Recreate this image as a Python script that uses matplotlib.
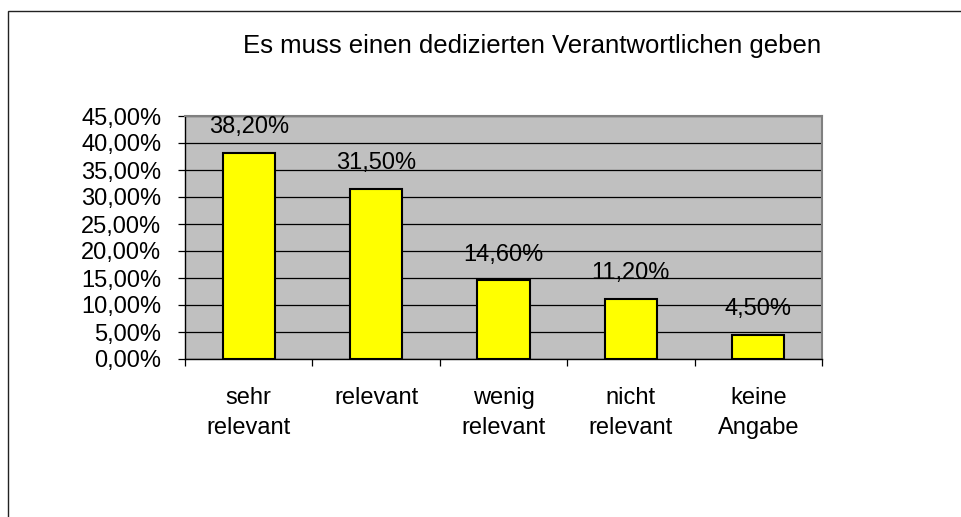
import matplotlib
matplotlib.use('Agg')
import matplotlib.pyplot as plt
from matplotlib.patches import Rectangle
from matplotlib.ticker import FixedLocator

plt.rcParams['font.family'] = ['Liberation Sans', 'DejaVu Sans']

# ---------------------------------------------------------------------------
# Data
# ---------------------------------------------------------------------------
TITLE      = 'Es muss einen dedizierten Verantwortlichen geben'
categories = ['sehr\nrelevant', 'relevant', 'wenig\nrelevant',
              'nicht\nrelevant', 'keine\nAngabe']
shares     = [0.382, 0.315, 0.146, 0.112, 0.045]
yticks     = [i * 0.05 for i in range(10)]

FS = 17


def pct(v):
    return f'{v * 100:.2f}%'.replace('.', ',')


W, H = 961, 517
fig = plt.figure(figsize=(W / 100, H / 100), dpi=100)
fig.patch.set_facecolor('white')

# outer chart frame (runs off the right and bottom edges)
fig.add_artist(Rectangle((8 / W, -0.1), 1.2, 1.1 - 11 / H,
                         transform=fig.transFigure, fill=False,
                         edgecolor='#222222', lw=1.0))

ax = fig.add_axes([185 / W, (H - 359) / H, 637 / W, 243 / H])
ax.set_facecolor('#C0C0C0')

x = list(range(len(categories)))
ax.bar(x, shares, width=0.41, color='#FFFF00', edgecolor='black',
       linewidth=1.5, zorder=3)

for xi, v in zip(x, shares):
    ax.annotate(pct(v), (xi, v), xytext=(0, 14), textcoords='offset points',
                ha='center', va='baseline', fontsize=FS, zorder=4)

ax.set_xlim(-0.5, len(categories) - 0.5)
ax.set_ylim(0, 0.45)
ax.set_yticks(yticks)
ax.set_yticklabels([pct(t) for t in yticks], fontsize=FS)
ax.yaxis.grid(True, color='black', lw=0.9, zorder=1)
ax.set_axisbelow(True)

# category boundaries as ticks, names as minor tick labels
ax.xaxis.set_major_locator(FixedLocator([i - 0.5 for i in range(len(categories) + 1)]))
ax.xaxis.set_major_formatter(plt.NullFormatter())
ax.xaxis.set_minor_locator(FixedLocator(x))
ax.set_xticklabels(categories, minor=True, fontsize=FS)
for t in ax.xaxis.get_minor_ticks():
    t.label1.set_linespacing(1.5)
ax.tick_params(axis='x', which='minor', length=0, pad=20)
ax.tick_params(axis='x', which='major', length=5, width=0.9)
ax.tick_params(axis='y', length=5, width=0.9, pad=12)

for side in ('left', 'bottom'):
    ax.spines[side].set_color('black')
    ax.spines[side].set_linewidth(1.0)
for side in ('top', 'right'):
    ax.spines[side].set_color('#808080')
    ax.spines[side].set_linewidth(1.5)

fig.text(532 / W, 1 - 46 / H, TITLE, ha='center', va='center', fontsize=18.5)

fig.savefig('out.png', dpi=100)
